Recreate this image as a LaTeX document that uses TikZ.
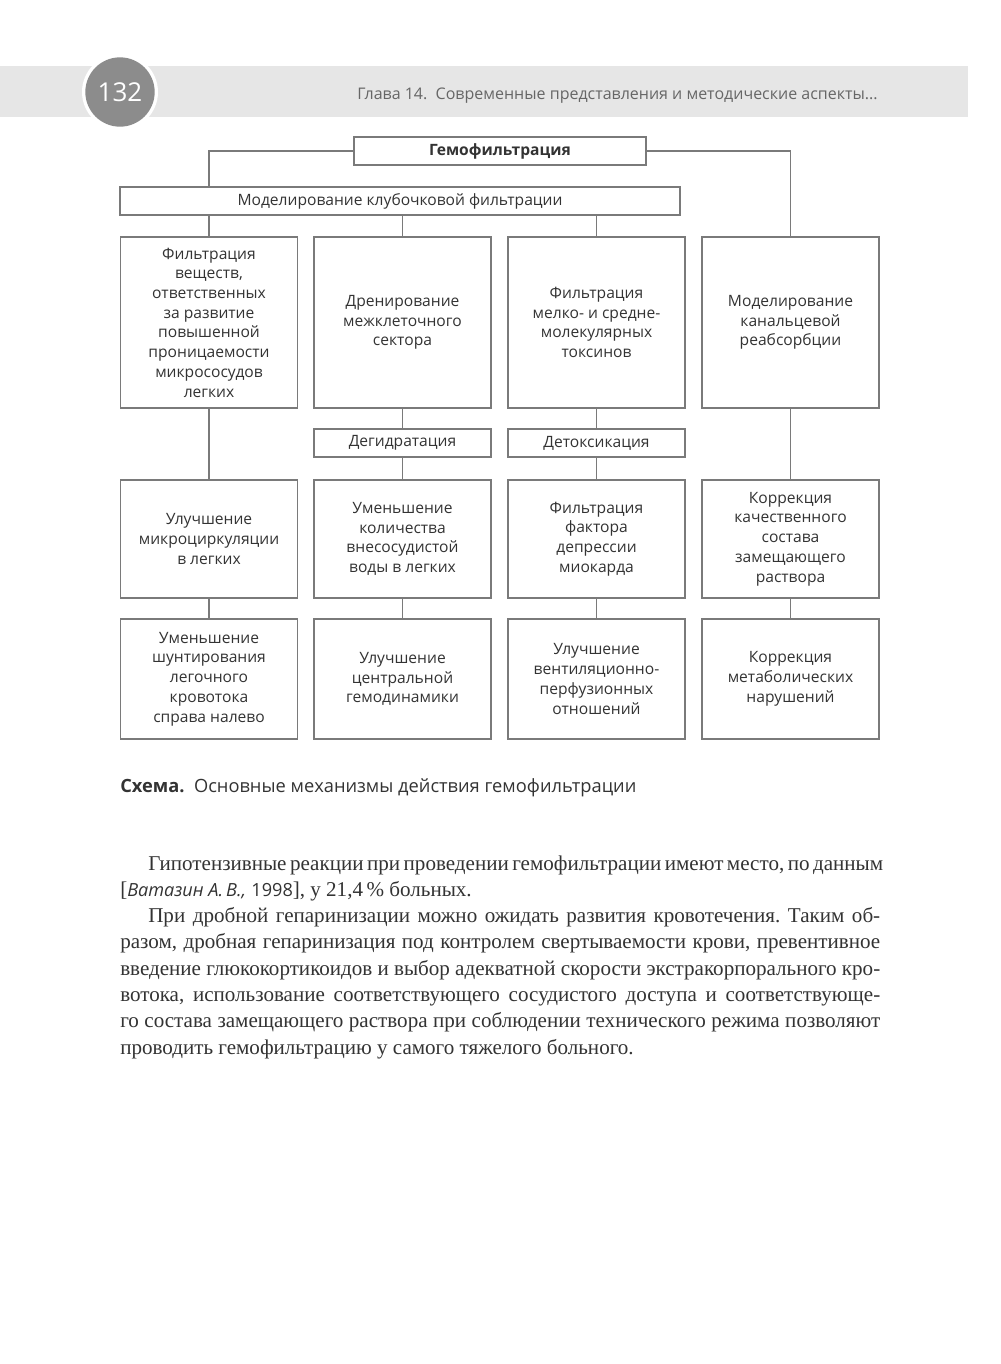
\documentclass[tikz,border=0pt]{standalone}
\usepackage{fontspec}
\setmainfont{Liberation Serif}
\newfontfamily\osans{Open Sans}
\definecolor{band}{HTML}{E6E6E6}
\definecolor{badge}{HTML}{8C8C8C}
\definecolor{linegray}{HTML}{7A7A7A}
\definecolor{txt}{HTML}{333333}
\definecolor{hdrtxt}{HTML}{666666}
\frenchspacing
\begin{document}
\begin{tikzpicture}[x=0.75pt,y=-0.75pt,
  box/.style={draw=linegray, line width=0.9pt, fill=white, align=center, text=txt,
    font=\osans\fontsize{11.7}{14.8}\selectfont, inner sep=0pt, minimum width=132.75pt},
  tall/.style={box, minimum height=128.25pt},
  mid/.style={box, minimum height=88.5pt},
  low/.style={box, minimum height=90pt},
  thin/.style={box, minimum height=21pt},
  link/.style={draw=linegray, line width=0.9pt},
  bodyline/.style={anchor=base west, inner sep=0pt, text=txt, font=\fontsize{15.8}{18}\selectfont}]
\useasboundingbox (0,0) rectangle (1000,1364);
\fill[white] (0,0) rectangle (1000,1364);
% header
\fill[band] (0,66) rectangle (968,117);
\fill[white] (120,92) circle (28.5pt);
\fill[badge] (120,92) circle (26pt);
\node[text=white, font=\osans\fontsize{19.5}{20}\selectfont, inner sep=0pt] (pg) at (120,92) {132};
\node[anchor=base west, inner sep=0pt, text=hdrtxt, font=\osans\fontsize{12}{14}\selectfont] (hdr) at (357,99) {Глава 14.\ \ Современные представления и методические аспекты...};
% diagram
\node[box, minimum width=219pt, minimum height=21pt, font=\osans\bfseries\fontsize{11.7}{14.8}\selectfont] (T) at (500,151) {Гемофильтрация};
\node[box, minimum width=420pt, minimum height=21pt] (M) at (400,201) {Моделирование клубочковой фильтрации};
\node[tall] (A1) at (209,322.5) {Фильтрация\\веществ,\\ответственных\\за развитие\\повышенной\\проницаемости\\микрососудов\\легких};
\node[tall] (A2) at (402.5,322.5) {Дренирование\\межклеточного\\сектора};
\node[tall] (A3) at (596.5,322.5) {Фильтрация\\мелко- и средне-\\молекулярных\\токсинов};
\node[tall] (A4) at (790.5,322.5) {Моделирование\\канальцевой\\реабсорбции};
\node[thin] (D2) at (402.5,443) {Дегидратация};
\node[thin] (D3) at (596.5,443) {Детоксикация};
\node[mid] (B1) at (209,539) {Улучшение\\микроциркуляции\\в легких};
\node[mid] (B2) at (402.5,539) {Уменьшение\\количества\\внесосудистой\\воды в легких};
\node[mid] (B3) at (596.5,539) {Фильтрация\\фактора\\депрессии\\миокарда};
\node[mid] (B4) at (790.5,539) {Коррекция\\качественного\\состава\\замещающего\\раствора};
\node[low] (C1) at (209,679) {Уменьшение\\шунтирования\\легочного\\кровотока\\справа налево};
\node[low] (C2) at (402.5,679) {Улучшение\\центральной\\гемодинамики};
\node[low] (C3) at (596.5,679) {Улучшение\\вентиляционно-\\перфузионных\\отношений};
\node[low] (C4) at (790.5,679) {Коррекция\\метаболических\\нарушений};
% connectors
\draw[link] (T.west) -| (M.north -| A1.north);
\draw[link] (T.east) -| (A4.north);
\draw[link] (M.south -| A1.north) -- (A1.north);
\draw[link] (M.south -| A2.north) -- (A2.north);
\draw[link] (M.south -| A3.north) -- (A3.north);
\draw[link] (A1.south) -- (B1.north);
\draw[link] (A2.south) -- (D2.north);
\draw[link] (D2.south) -- (B2.north);
\draw[link] (A3.south) -- (D3.north);
\draw[link] (D3.south) -- (B3.north);
\draw[link] (A4.south) -- (B4.north);
\draw[link] (B1.south) -- (C1.north);
\draw[link] (B2.south) -- (C2.north);
\draw[link] (B3.south) -- (C3.north);
\draw[link] (B4.south) -- (C4.north);
% caption
\node[anchor=base west, inner sep=0pt, text=txt, font=\osans\fontsize{13.7}{15}\selectfont] (cap) at (120,792) {\textbf{Схема.}\ \ Основные механизмы действия гемофильтрации};
% body text
\node[bodyline] (p1) at (148,870) {\makebox[549pt][s]{Гипотензивные реакции при проведении гемофильтрации имеют место, по данным}};
\node[bodyline] (p2) at (120,896.3) {[{\osans\itshape\fontsize{13.6}{15}\selectfont Ватазин А.\,В.,}\ {\osans\fontsize{13.6}{15}\selectfont 1998}], у 21,4\,\% больных.};
\node[bodyline] (p3) at (148,922.6) {\makebox[549pt][s]{При дробной гепаринизации можно ожидать развития кровотечения. Таким об-}};
\node[bodyline] (p4) at (120,948.9) {\makebox[570pt][s]{разом, дробная гепаринизация под контролем свертываемости крови, превентивное}};
\node[bodyline] (p5) at (120,975.2) {\makebox[570pt][s]{введение глюкокортикоидов и выбор адекватной скорости экстракорпорального кро-}};
\node[bodyline] (p6) at (120,1001.5) {\makebox[570pt][s]{вотока, использование соответствующего сосудистого доступа и соответствующе-}};
\node[bodyline] (p7) at (120,1027.8) {\makebox[570pt][s]{го состава замещающего раствора при соблюдении технического режима позволяют}};
\node[bodyline] (p8) at (120,1054.1) {проводить гемофильтрацию у самого тяжелого больного.};
\end{tikzpicture}
\end{document}
